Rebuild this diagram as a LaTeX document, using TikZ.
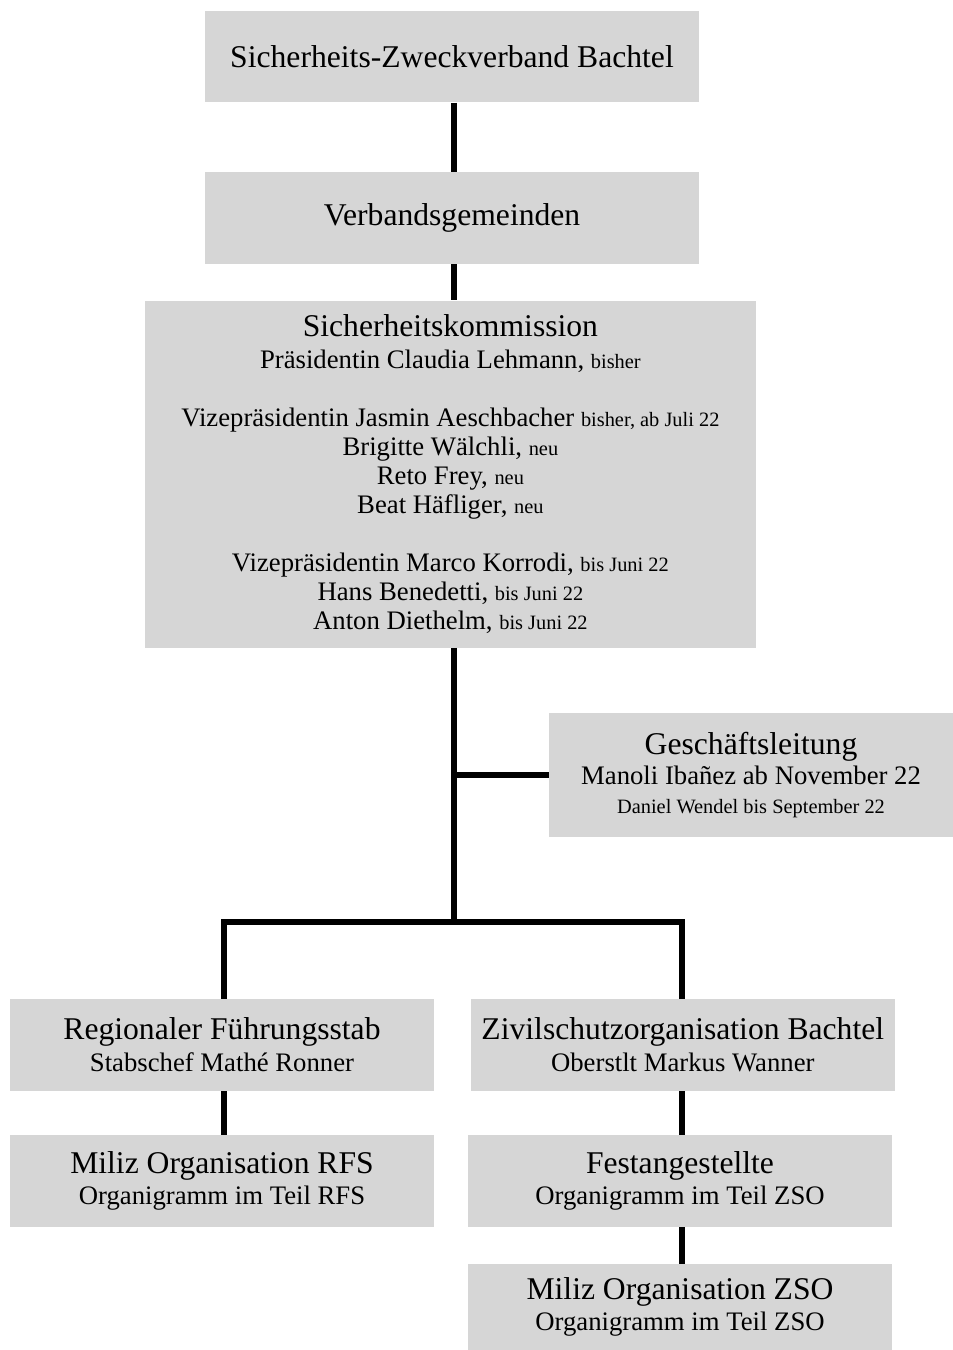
\documentclass[tikz,border=0pt]{standalone}
\usepackage{fontspec}
\setmainfont{Liberation Serif}
\usepackage{tikz}
\usepackage{xcolor}
\usetikzlibrary{positioning, calc}

\definecolor{boxgray}{HTML}{D6D6D6}
\newcommand{\zusatz}[1]{{\fontsize{14.5}{16}\selectfont #1}}

\begin{document}
\begin{tikzpicture}[
  every node/.style={font=\fontsize{19}{20.6}\selectfont},
  orgbox/.style={fill=boxgray, draw=none, align=center, inner sep=0pt,
                 minimum width=10.6cm, minimum height=2.3cm},
  titel/.style={font=\fontsize{22.5}{24}\selectfont},
  conn/.style={line width=3.6pt, black, line join=miter}
]
\useasboundingbox (0,0) rectangle (23.825,-33.75);

% ---- Top level ----
\node[orgbox, titel, minimum width=12.35cm, minimum height=2.275cm] (szb) at (11.3, -1.425)
  {Sicherheits-Zweckverband Bachtel};
\node[orgbox, titel, minimum width=12.35cm] (vg) at (11.3, -5.45)
  {Verbandsgemeinden};

% ---- Commission ----
\node[orgbox, minimum width=15.275cm, minimum height=8.675cm] (sk) at (11.26, -11.85)
  {{\fontsize{22.5}{24}\selectfont Sicherheitskommission}\\[2pt]
   Präsidentin Claudia Lehmann, \zusatz{bisher}\\[20.6pt]
   Vizepräsidentin Jasmin Aeschbacher \zusatz{bisher, ab Juli 22}\\
   Brigitte Wälchli, \zusatz{neu}\\
   Reto Frey, \zusatz{neu}\\
   Beat Häfliger, \zusatz{neu}\\[20.6pt]
   Vizepräsidentin Marco Korrodi, \zusatz{bis Juni 22}\\
   Hans Benedetti, \zusatz{bis Juni 22}\\
   Anton Diethelm, \zusatz{bis Juni 22}};

% ---- Management ----
\node[orgbox, minimum width=10.1cm, minimum height=3.1cm] (gl) at (18.775, -19.375)
  {{\fontsize{22.5}{24}\selectfont Geschäftsleitung}\\[1pt]
   Manoli Ibañez ab November 22\\
   \zusatz{Daniel Wendel bis September 22}};

% ---- Left branch ----
\node[orgbox] (rfs) at (5.55, -26.125)
  {{\fontsize{22.5}{24}\selectfont Regionaler Führungsstab}\\[2pt]
   Stabschef Mathé Ronner};
\node[orgbox] (mrfs) at (5.55, -29.525)
  {{\fontsize{22.5}{24}\selectfont Miliz Organisation RFS}\\[2pt]
   Organigramm im Teil RFS};

% ---- Right branch ----
\node[orgbox] (zso) at (17.07, -26.125)
  {{\fontsize{22.5}{24}\selectfont Zivilschutzorganisation Bachtel}\\[2pt]
   Oberstlt Markus Wanner};
\node[orgbox] (fest) at (17.0, -29.525)
  {{\fontsize{22.5}{24}\selectfont Festangestellte}\\[2pt]
   Organigramm im Teil ZSO};
\node[orgbox, minimum height=2.15cm] (mzso) at (17.0, -32.675)
  {{\fontsize{22.5}{24}\selectfont Miliz Organisation ZSO}\\[2pt]
   Organigramm im Teil ZSO};

% ---- Connectors ----
\coordinate (spine) at (11.35, 0);
\coordinate (fork) at (11.35, -23.05);
\draw[conn] (szb.south -| spine) -- (vg.north -| spine);
\draw[conn] (vg.south -| spine) -- (sk.north -| spine);
\draw[conn] (sk.south -| spine) -- (fork);
\draw[conn] (gl.west -| spine) -- (gl.west);
\draw[conn] (rfs.north -| 5.6,0) |- (fork) -| (zso.north -| 17.05,0);
\draw[conn] (rfs.south -| 5.6,0) -- (mrfs.north -| 5.6,0);
\draw[conn] (zso.south -| 17.05,0) -- (fest.north -| 17.05,0);
\draw[conn] (fest.south -| 17.05,0) -- (mzso.north -| 17.05,0);

\end{tikzpicture}
\end{document}
